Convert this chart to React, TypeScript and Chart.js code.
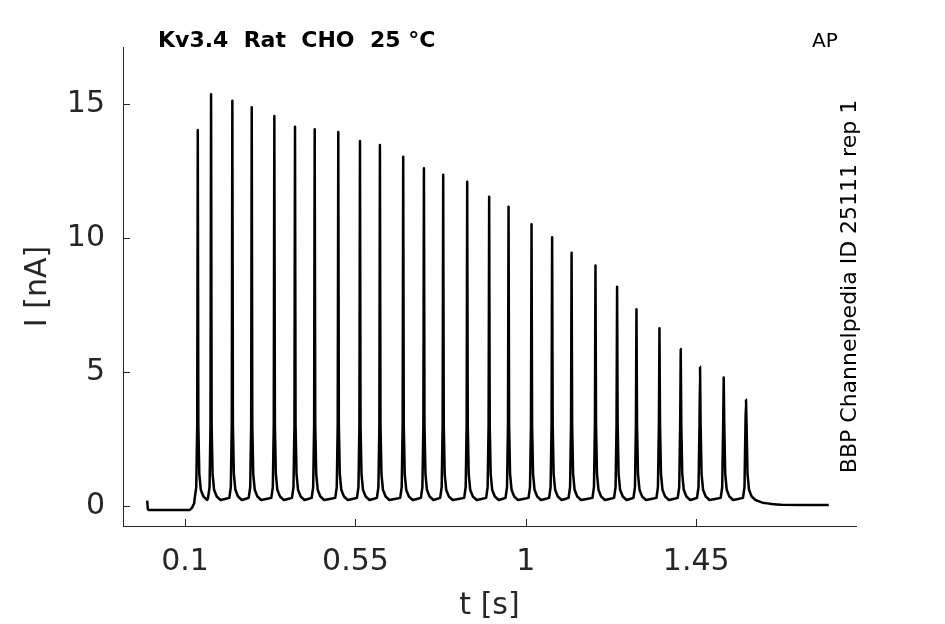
import React, { useEffect, useRef } from 'react';
import Chart from 'chart.js/auto';

// peak times (s) and peak currents (nA) of the AP-clamp response
const spikeTimes = [
  0.1335, 0.1686, 0.2248, 0.276, 0.3357, 0.3903, 0.4423, 0.5046, 0.5619,
  0.6146, 0.6761, 0.7308, 0.7817, 0.8451, 0.9031, 0.9543, 1.015, 1.0694,
  1.1208, 1.1839, 1.241, 1.2922, 1.3529, 1.4091, 1.4601, 1.5226, 1.5815,
];
const spikePeaks = [
  14.03, 15.37, 15.12, 14.88, 14.55, 14.15, 14.06, 13.96, 13.62, 13.47, 13.03,
  12.6, 12.36, 12.1, 11.54, 11.17, 10.51, 10.03, 9.45, 8.97, 8.18, 7.34, 6.63,
  5.86, 5.19, 4.79, 3.96,
];

// shape of one spike around its peak (offset in s, level in nA)
const riseOffsets = [-0.008, -0.004, -0.0015];
const riseLevels = [0.3, 0.7, 3.0];
const decayOffsets = [0.0015, 0.004, 0.008, 0.015, 0.025];
const decayLevels = [3.0, 1.2, 0.6, 0.35, 0.22];

// trace before the first and after the last spike
const leadTimes = [0, 0.0015, 0.004, 0.112, 0.118, 0.124];
const leadValues = [0.2, -0.12, -0.15, -0.15, -0.08, 0.1];
const tailTimes = [1.625, 1.65, 1.675, 1.8];
const tailValues = [0.12, 0.07, 0.04, 0.03];

const xTicks = [0.1, 0.55, 1, 1.45];
const yTicks = [0, 5, 10, 15];

const axisColor = '#262626';
const fontFamily = '"DejaVu Sans", sans-serif';

const tracePoints: { x: number; y: number }[] = [];
leadTimes.forEach((t, i) => tracePoints.push({ x: t, y: leadValues[i] }));
spikeTimes.forEach((t, i) => {
  riseOffsets.forEach((o, j) => tracePoints.push({ x: t + o, y: riseLevels[j] }));
  tracePoints.push({ x: t, y: spikePeaks[i] });
  decayOffsets.forEach((o, j) => tracePoints.push({ x: t + o, y: decayLevels[j] }));
});
tailTimes.forEach((t, i) => tracePoints.push({ x: t, y: tailValues[i] }));

const decorations = {
  id: 'decorations',
  afterDatasetsDraw(chart: any) {
    const { ctx, chartArea, scales } = chart;
    ctx.save();

    // inward tick marks
    ctx.strokeStyle = axisColor;
    ctx.lineWidth = 1;
    ctx.beginPath();
    xTicks.forEach((v) => {
      const px = Math.round(scales.x.getPixelForValue(v)) + 0.5;
      ctx.moveTo(px, chartArea.bottom);
      ctx.lineTo(px, chartArea.bottom - 7);
    });
    yTicks.forEach((v) => {
      const py = Math.round(scales.y.getPixelForValue(v)) + 0.5;
      ctx.moveTo(chartArea.left, py);
      ctx.lineTo(chartArea.left + 7, py);
    });
    ctx.stroke();

    const midX = (chartArea.left + chartArea.right) / 2;
    const midY = (chartArea.top + chartArea.bottom) / 2;

    // axis titles
    ctx.fillStyle = axisColor;
    ctx.font = `30px ${fontFamily}`;
    ctx.textAlign = 'center';
    ctx.textBaseline = 'alphabetic';
    ctx.fillText('t [s]', midX, 614);

    ctx.save();
    ctx.translate(46, midY);
    ctx.rotate(-Math.PI / 2);
    ctx.fillText('I [nA]', 0, 0);
    ctx.restore();

    // title and annotations
    ctx.fillStyle = '#000';
    ctx.textAlign = 'left';
    ctx.font = `bold 22px ${fontFamily}`;
    ctx.fillText('Kv3.4  Rat  CHO  25 °C', 158, 46.5);

    ctx.font = `20px ${fontFamily}`;
    ctx.fillText('AP', 812, 46.5);

    ctx.save();
    ctx.translate(856, midY);
    ctx.rotate(-Math.PI / 2);
    ctx.textAlign = 'center';
    ctx.font = `22px ${fontFamily}`;
    ctx.fillText('BBP Channelpedia ID 25111 rep 1', 0, 0);
    ctx.restore();

    ctx.restore();
  },
};

const App: React.FC = () => {
  const canvasRef = useRef<HTMLCanvasElement>(null);

  useEffect(() => {
    if (!canvasRef.current) return;

    const chart = new Chart(canvasRef.current, {
      type: 'line',
      data: {
        datasets: [
          {
            label: 'AP',
            data: tracePoints,
            borderColor: '#000',
            borderWidth: 2.5,
            borderJoinStyle: 'round',
            pointRadius: 0,
            tension: 0.001,
            fill: false,
          },
        ],
      },
      options: {
        animation: false,
        responsive: false,
        devicePixelRatio: 1,
        layout: { padding: { left: 0, top: 47, right: 89, bottom: 0 } },
        plugins: {
          legend: { display: false },
          tooltip: { enabled: false },
        },
        scales: {
          x: {
            type: 'linear',
            min: -0.064,
            max: 1.872,
            grid: { display: false },
            border: { display: true, color: axisColor, width: 1 },
            afterBuildTicks: (scale: any) => {
              scale.ticks = xTicks.map((v) => ({ value: v }));
            },
            afterFit: (scale: any) => {
              scale.height = 98;
            },
            ticks: {
              color: axisColor,
              padding: 10,
              maxRotation: 0,
              font: { family: fontFamily, size: 30 },
              callback: (v: any) => String(v),
            },
          },
          y: {
            type: 'linear',
            min: -0.75,
            max: 17.13,
            grid: { display: false },
            border: { display: true, color: axisColor, width: 1 },
            afterBuildTicks: (scale: any) => {
              scale.ticks = yTicks.map((v) => ({ value: v }));
            },
            afterFit: (scale: any) => {
              scale.width = 123;
            },
            ticks: {
              color: axisColor,
              padding: 10,
              font: { family: fontFamily, size: 30 },
              callback: (v: any) => String(v),
            },
          },
        },
      },
      plugins: [decorations],
    });

    return () => chart.destroy();
  }, []);

  return (
    <div style={{ position: 'fixed', left: 0, top: 0, width: 945, height: 624, background: '#fff' }}>
      <canvas ref={canvasRef} width={945} height={624}></canvas>
    </div>
  );
};

export default App;
